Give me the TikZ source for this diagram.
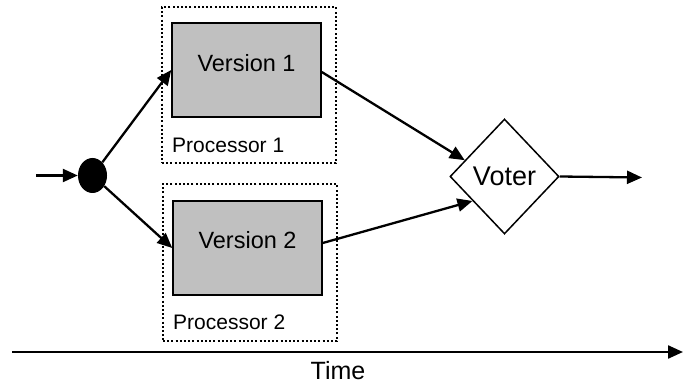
\documentclass[tikz,border=0pt]{standalone}
\usepackage{fontspec}
\setmainfont{Liberation Sans}
\usetikzlibrary{arrows.meta,shapes.geometric,calc}

\tikzset{
  flow/.style={line width=2.3pt,-{Triangle[length=15pt,width=13pt]}},
  procbox/.style={draw,line width=2pt,dash pattern=on 2pt off 2.2pt,
    rectangle,minimum width=174pt,minimum height=156pt,inner sep=0pt},
  versionbox/.style={draw,line width=1.5pt,fill={rgb,255:red,192;green,192;blue,192},
    rectangle,minimum width=149pt,minimum height=94pt,inner sep=0pt},
  vtext/.style={font=\fontsize{23.5}{28}\selectfont,anchor=base,inner sep=0pt},
  ptext/.style={font=\fontsize{21}{25}\selectfont,anchor=base west,inner sep=0pt},
  splitdot/.style={ellipse,fill=black,minimum width=29pt,minimum height=35pt,inner sep=0pt},
  voterbox/.style={diamond,draw,line width=1.5pt,minimum width=109pt,minimum height=115pt,
    inner sep=0pt,font=\fontsize{27}{32}\selectfont},
}

\begin{document}
\begin{tikzpicture}[x=1pt,y=-1pt]
  \useasboundingbox (0,0) rectangle (683,387);

  % processors with their software versions
  \node[procbox] (p1) at (249,85) {};
  \node[versionbox] (v1) at (246.5,70) {};
  \node[vtext] (v1t) at (246.5,72) {Version 1};
  \node[ptext] (p1t) at (172,153) {Processor 1};

  \node[procbox,minimum height=157pt] (p2) at (250,262.5) {};
  \node[versionbox] (v2) at (247.5,248) {};
  \node[vtext] (v2t) at (247.5,249) {Version 2};
  \node[ptext] (p2t) at (173,330) {Processor 2};

  % input split and voter
  \node[splitdot] (dot) at (92.5,175.5) {};
  \node[voterbox] (voter) at (504.5,176.5) {Voter};

  \coordinate (in) at (36,175.5);
  \coordinate (out) at (642,177.5);

  \draw[flow] (in) -- (dot);
  \draw[flow] (dot) -- (v1.west);
  \draw[flow] (dot) -- (v2.west);
  \draw[flow] ([yshift=-2pt]v1.east) -- ($(voter.west)!0.28!(voter.north)$);
  \draw[flow] ([yshift=5pt]v2.east) -- ($(voter.west)!0.42!(voter.south)$);
  \draw[flow] (voter.east) -- (out);

  % time axis
  \coordinate (t0) at (12,352);
  \coordinate (t1) at (683,352);
  \draw[flow] (t0) -- (t1);
  \node[font=\fontsize{25}{30}\selectfont,anchor=base,inner sep=0pt] (time) at (338,379) {Time};
\end{tikzpicture}
\end{document}
